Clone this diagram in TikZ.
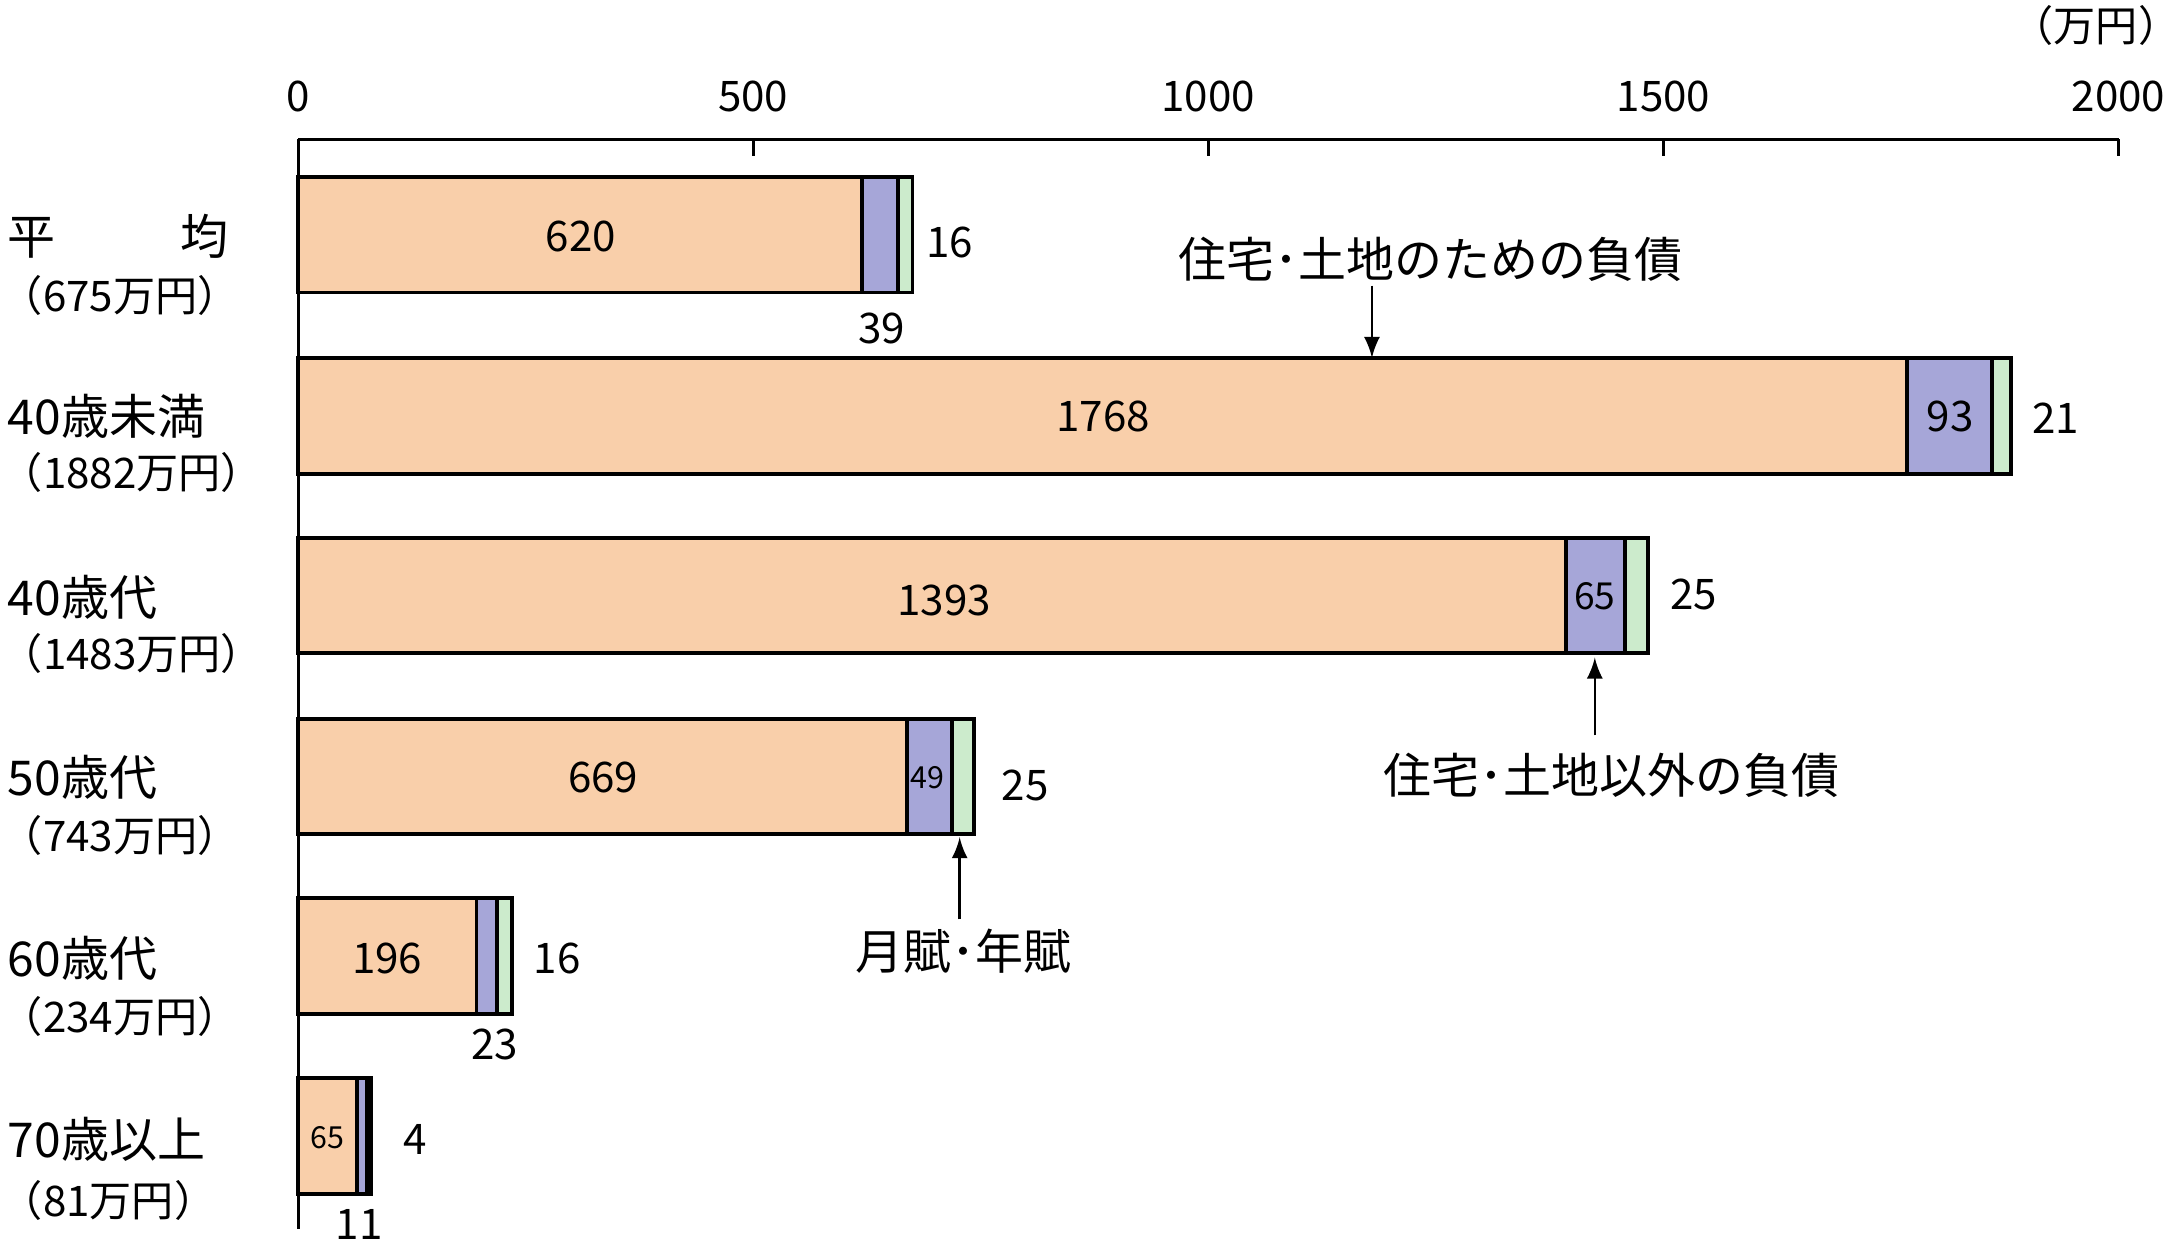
\documentclass[tikz,border=0pt]{standalone}
\usepackage{fontspec}
\setmainfont{Noto Sans CJK JP}
\begin{document}
\begin{tikzpicture}[x=0.01cm,y=-0.01cm,
  lab/.style={font=\fontsize{8.6}{10}\selectfont,inner sep=0},
  big/.style={font=\fontsize{9.8}{11}\selectfont,inner sep=0},
  sml/.style={font=\fontsize{6.2}{7}\selectfont,inner sep=0},
  seg/.style={draw=black,line width=0.8pt},
  arr/.style={-latex,line width=0.5pt}]
\useasboundingbox (0,0) rectangle (1568,893);
\definecolor{or}{RGB}{249,207,170}
\definecolor{pu}{RGB}{166,166,216}
\definecolor{gr}{RGB}{204,235,204}
% axes
\draw[line width=0.6pt] (214,100) -- (1521,100);
\draw[line width=0.6pt] (214,100) -- (214,882);
\foreach \v in {0,500,1000,1500,2000}{
  \draw[line width=0.6pt] ({214+\v*0.6535},100) -- ({214+\v*0.6535},112);
  \node[lab] (t\v) at ({214+\v*0.6535},69) {\v};}
\node[lab,anchor=east] (unit) at (1566,18) {（万円）};
% bars
\foreach \n/\t/\a/\b/\c in {r1/127/620/39/16, r2/257/1768/93/21, r3/386/1393/65/25, r4/516/669/49/25, r5/645/196/23/16, r6/774/65/11/4}{
  \pgfmathsetmacro\xa{214+\a*0.6535}
  \pgfmathsetmacro\xb{\xa+\b*0.6535}
  \pgfmathsetmacro\xc{\xb+\c*0.6535}
  \draw[seg,fill=or] (214,\t) rectangle (\xa,\t+83);
  \draw[seg,fill=pu] (\xa,\t) rectangle (\xb,\t+83);
  \draw[seg,fill=gr] (\xb,\t) rectangle (\xc,\t+83);
  \coordinate (\n) at (\xc,\t);
}
% values in bars
\node[lab] (v1) at (417,170) {620};
\node[lab] (v2) at (792,299) {1768};
\node[lab] (v3) at (678,431) {1393};
\node[lab] (v4) at (433,558) {669};
\node[lab] (v5) at (278,688) {196};
\node[sml] (v6) at (235,817) {65};
\node[lab] (p2) at (1400,299) {93};
\node[sml,font=\fontsize{7.6}{9}\selectfont] (p3) at (1145,428) {65};
\node[sml] (p4) at (666,558) {49};
% outside values
\node[lab] (o1) at (682,174) {16};
\node[lab] (o1b) at (633,236) {39};
\node[lab] (o2) at (1476,300) {21};
\node[lab] (o3) at (1216,427) {25};
\node[lab] (o4) at (736,564) {25};
\node[lab] (o5) at (400,688) {16};
\node[lab] (o5b) at (355,750) {23};
\node[lab] (o6) at (298,818) {4};
\node[lab] (o6b) at (258,879) {11};
% row labels
\node[big,anchor=west] (l1) at (5,170) {平\hspace{2.6em}均};
\node[lab,anchor=west] (l1b) at (0,212) {（675万円）};
\node[big,anchor=west] (l2) at (5,299) {40歳未満};
\node[lab,anchor=west] (l2b) at (0,339) {（1882万円）};
\node[big,anchor=west] (l3) at (5,429) {40歳代};
\node[lab,anchor=west] (l3b) at (0,469) {（1483万円）};
\node[big,anchor=west] (l4) at (5,558) {50歳代};
\node[lab,anchor=west] (l4b) at (0,600) {（743万円）};
\node[big,anchor=west] (l5) at (5,688) {60歳代};
\node[lab,anchor=west] (l5b) at (0,730) {（234万円）};
\node[big,anchor=west] (l6) at (5,818) {70歳以上};
\node[lab,anchor=west] (l6b) at (0,862) {（81万円）};
% annotations
\node[big] (a1) at (1027,186) {住宅･土地のための負債};
\coordinate (a1t) at (985,257);
\draw[arr] (985,205) -- (a1t);
\node[big] (a2) at (1157,557) {住宅･土地以外の負債};
\coordinate (a2t) at (1145,472);
\draw[arr] (1145,528) -- (a2t);
\node[big] (a3) at (692,683) {月賦･年賦};
\coordinate (a3t) at (689,601);
\draw[arr] (689,660) -- (a3t);
\end{tikzpicture}
\end{document}
